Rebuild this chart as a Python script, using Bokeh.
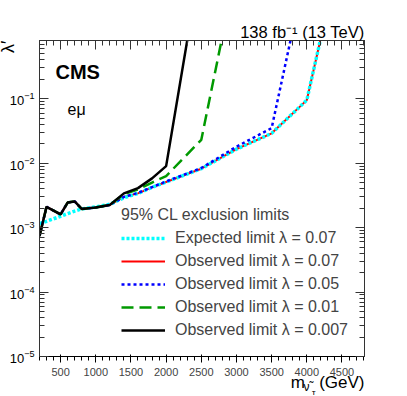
import math
from bokeh.plotting import figure
from bokeh.models import (Range1d, LinearAxis, LogAxis, SingleIntervalTicker, LogTicker, Title,
                          Label, Legend, LegendItem, ColumnDataSource, CustomJSTickFormatter)
from bokeh.embed import file_html
from bokeh.resources import INLINE

nan = float("nan")

# sneutrino mass (GeV)
mass = [200, 300, 500, 600, 700, 800, 1000, 1200, 1400, 1600, 1800, 2000, 2500, 3000, 3500, 4000, 4500]
expected_007 = [1.15e-3, 1.25e-3, 1.5e-3, 1.65e-3, 1.8e-3, 1.95e-3, 2.1e-3, 2.3e-3, 2.9e-3, 3.4e-3,
                4.2e-3, 5.1e-3, 8.2e-3, 1.65e-2, 2.9e-2, 9.5e-2, 25.0]
observed_007 = [7.4e-4, 2.1e-3, 1.6e-3, 2.45e-3, 2.55e-3, 1.95e-3, 2.05e-3, 2.25e-3, 3.0e-3, 3.4e-3,
                4.2e-3, 5.1e-3, 8.2e-3, 1.65e-2, 2.9e-2, 9.5e-2, 25.0]
observed_005 = [7.4e-4, 2.1e-3, 1.6e-3, 2.45e-3, 2.55e-3, 1.95e-3, 2.05e-3, 2.25e-3, 3.0e-3, 3.45e-3,
                4.25e-3, 5.2e-3, 8.4e-3, 1.8e-2, 3.5e-2, 12.0, nan]
observed_001 = [7.4e-4, 2.1e-3, 1.6e-3, 2.45e-3, 2.55e-3, 1.95e-3, 2.05e-3, 2.25e-3, 3.3e-3, 3.9e-3,
                5.0e-3, 6.3e-3, 2.3e-2, 11.0, nan, nan, nan]
observed_0007 = [7.4e-4, 2.1e-3, 1.6e-3, 2.45e-3, 2.55e-3, 1.95e-3, 2.05e-3, 2.25e-3, 3.4e-3, 4.1e-3,
                 5.8e-3, 9.0e-3, 16.0, nan, nan, nan, nan]

x_ticks_interval = 500
FONT = "Liberation Sans"
NBSP = "\u00a0"

src = ColumnDataSource(dict(m=mass, exp=expected_007, o007=observed_007, o005=observed_005,
                            o001=observed_001, o0007=observed_0007))

p = figure(frame_width=325, frame_height=316, x_range=Range1d(200, 4820), y_range=Range1d(1e-5, 0.8),
           y_axis_type="log", output_backend="svg", toolbar_location=None,
           min_border_left=39, min_border_right=20, min_border_top=40, min_border_bottom=39)
p.xgrid.visible = False
p.ygrid.visible = False
p.outline_line_color = "#333333"
p.outline_line_width = 1
p.background_fill_color = "white"
p.border_fill_color = "white"

# axes
p.xaxis.ticker = SingleIntervalTicker(interval=x_ticks_interval, num_minor_ticks=5)
top = LinearAxis(ticker=SingleIntervalTicker(interval=x_ticks_interval, num_minor_ticks=5),
                 formatter=CustomJSTickFormatter(code="return ''"))
right = LogAxis(ticker=LogTicker(num_minor_ticks=10),
                formatter=CustomJSTickFormatter(code="return ''"))
p.add_layout(top, "above")
p.add_layout(right, "right")

for ax in [p.xaxis[0], p.yaxis[0], top, right]:
    ax.major_tick_in = 9
    ax.major_tick_out = 0
    ax.minor_tick_in = 5
    ax.minor_tick_out = 0
    ax.axis_line_color = "#333333"
    ax.major_tick_line_color = "#333333"
    ax.minor_tick_line_color = "#333333"
    ax.major_label_text_font = FONT
    ax.major_label_text_font_size = "13px"
    ax.major_label_text_color = "black"
for ax in [top, right]:
    ax.major_label_standoff = 0
p.xaxis[0].major_label_standoff = 5
p.yaxis[0].major_label_standoff = 5

# lines
r_obs007 = p.line("m", "o007", source=src, line_color="red", line_width=2)
r_exp = p.line("m", "exp", source=src, line_color="#00FFFF", line_width=3.5, line_dash="3 2")
r_obs005 = p.line("m", "o005", source=src, line_color="blue", line_width=2.5, line_dash="3 3")
r_obs001 = p.line("m", "o001", source=src, line_color="#009900", line_width=2.5, line_dash="12 6")
r_obs0007 = p.line("m", "o0007", source=src, line_color="black", line_width=2.5)

legend = Legend(items=[
    LegendItem(label="Expected limit λ = 0.07", renderers=[r_exp]),
    LegendItem(label="Observed limit λ = 0.07", renderers=[r_obs007]),
    LegendItem(label="Observed limit λ = 0.05", renderers=[r_obs005]),
    LegendItem(label="Observed limit λ = 0.01", renderers=[r_obs001]),
    LegendItem(label="Observed limit λ = 0.007", renderers=[r_obs0007]),
], location=(82, 15), title="95% CL exclusion limits",
    title_text_font=FONT, title_text_font_size="16px", title_text_font_style="normal",
    label_text_font=FONT, label_text_font_size="16px",
    glyph_width=44, glyph_height=22, label_height=22, spacing=1, padding=0, margin=0,
    label_standoff=10, title_standoff=3,
    border_line_alpha=0, background_fill_alpha=0)
p.add_layout(legend)

# texts inside the frame (screen units, relative to frame bottom-left)
def lab(text, x, y, size, **kw):
    p.add_layout(Label(text=text, x=x, y=y, x_units="screen", y_units="screen",
                       text_font=FONT, text_font_size=size, text_color="black", **kw))

lab("CMS", 16, 285, "20px", text_font_style="bold", text_baseline="alphabetic")
lab("eμ", 28, 247, "16px", text_baseline="alphabetic")

# texts outside the frame: titles in the side panels
def ttl(text, side, size, **kw):
    t = Title(text=text, text_font=FONT, text_font_size=size, text_font_style="normal",
              text_color="black", **kw)
    p.add_layout(t, side)

ttl("138 fb⁻¹ (13 TeV)", "above", "16.5px", align="right", standoff=0)
ttl("λ′", "left", "18px", align="right", standoff=-22, offset=0)
ttl("m" + NBSP * 3 + "(GeV)", "below", "17px", align="right", standoff=-16, offset=0)
ttl("ν̃", "below", "12px", align="right", vertical_align="top", standoff=-8, offset=55)
ttl("τ", "below", "9px", align="right", vertical_align="top", standoff=-8, offset=49)

open("out.html", "w").write(file_html(p, INLINE))
